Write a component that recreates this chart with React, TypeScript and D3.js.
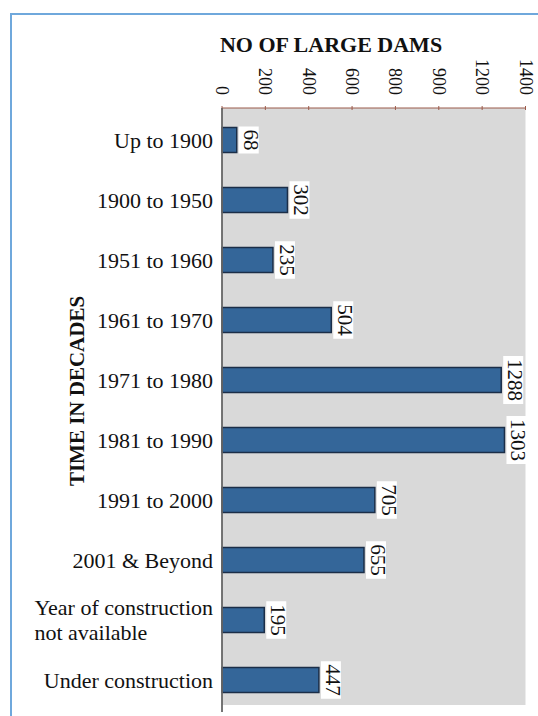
import React, { useEffect, useRef } from "react";
import * as d3 from "d3";

const categories = [
  "Up to 1900",
  "1900 to 1950",
  "1951 to 1960",
  "1961 to 1970",
  "1971 to 1980",
  "1981 to 1990",
  "1991 to 2000",
  "2001 & Beyond",
  "Year of construction\nnot available",
  "Under construction",
];
const values = [68, 302, 235, 504, 1288, 1303, 705, 655, 195, 447];
const tickValues = [0, 200, 400, 600, 800, 1000, 1200, 1400];
const tickLabels = ["0", "200", "400", "600", "800", "900", "1200", "1400"];
const xTitle = "NO OF LARGE DAMS";
const yTitle = "TIME IN DECADES";

const W = 538;
const H = 716;
const FONT = "'Liberation Serif', 'Times New Roman', serif";

export default function App() {
  const ref = useRef<SVGSVGElement | null>(null);

  useEffect(() => {
    const svg = d3.select(ref.current);
    svg.selectAll("*").remove();

    const x = d3.scaleLinear().domain([0, 1400]).range([222, 525.5]);
    const y = d3
      .scaleBand<string>()
      .domain(categories)
      .range([110, 710])
      .paddingInner(35 / 60)
      .paddingOuter(35 / 120);

    // frame
    svg
      .append("rect")
      .attr("x", 11)
      .attr("y", 14)
      .attr("width", W)
      .attr("height", H)
      .attr("fill", "white")
      .attr("stroke", "#6fa8dc")
      .attr("stroke-width", 2);

    // plot background
    svg
      .append("rect")
      .attr("x", x(0))
      .attr("y", 108)
      .attr("width", x(1400) - x(0))
      .attr("height", 705 - 108)
      .attr("fill", "#d9d9d9");

    // top axis line
    svg
      .append("line")
      .attr("x1", x(0))
      .attr("x2", x(1400))
      .attr("y1", 108)
      .attr("y2", 108)
      .attr("stroke", "#9a5a4a")
      .attr("stroke-width", 1);
    svg
      .selectAll("line.tick")
      .data(tickValues)
      .enter()
      .append("line")
      .attr("class", "tick")
      .attr("x1", (d) => x(d))
      .attr("x2", (d) => x(d))
      .attr("y1", 106)
      .attr("y2", 110)
      .attr("stroke", "#9a5a4a")
      .attr("stroke-width", 1);

    // tick labels rotated
    svg
      .selectAll("text.tl")
      .data(tickValues)
      .enter()
      .append("text")
      .attr("class", "tl")
      .attr("transform", (d) => `translate(${x(d) - 6},95) rotate(90)`)
      .attr("text-anchor", "end")
      .attr("font-family", FONT)
      .attr("font-size", 18)
      .attr("fill", "#111")
      .text((d, i) => tickLabels[i]);

    // bars
    svg
      .selectAll("rect.bar")
      .data(values)
      .enter()
      .append("rect")
      .attr("class", "bar")
      .attr("x", x(0))
      .attr("y", (d, i) => y(categories[i])!)
      .attr("width", (d) => x(d) - x(0))
      .attr("height", y.bandwidth())
      .attr("fill", "#346699")
      .attr("stroke", "#1b2e48")
      .attr("stroke-width", 1.5);

    // left axis line
    svg
      .append("line")
      .attr("x1", x(0))
      .attr("x2", x(0))
      .attr("y1", 108)
      .attr("y2", 712)
      .attr("stroke", "#666")
      .attr("stroke-width", 1.8);

    // value labels
    values.forEach((v, i) => {
      const cy = y(categories[i])! + y.bandwidth() / 2;
      const bx = x(v) + 2;
      const g = svg.append("g");
      const t = g
        .append("text")
        .attr("transform", `translate(${bx + 5},${cy}) rotate(90)`)
        .attr("text-anchor", "middle")
        .attr("font-family", FONT)
        .attr("font-size", 21)
        .attr("fill", "#111")
        .text(String(v));
      const len = (t.node() as SVGTextElement).getComputedTextLength();
      g.insert("rect", "text")
        .attr("x", bx)
        .attr("y", cy - len / 2 - 3)
        .attr("width", 20)
        .attr("height", len + 6)
        .attr("fill", "white");
    });

    // category labels
    const labelRight = 213;
    categories.forEach((c, i) => {
      const cy = y(c)! + y.bandwidth() / 2;
      const lines = c.split("\n");
      if (lines.length === 1) {
        svg
          .append("text")
          .attr("x", labelRight)
          .attr("y", cy)
          .attr("dy", "0.35em")
          .attr("text-anchor", "end")
          .attr("font-family", FONT)
          .attr("font-size", 22)
          .attr("fill", "#111")
          .text(c);
      } else {
        const t = svg
          .append("text")
          .attr("font-family", FONT)
          .attr("font-size", 22)
          .attr("fill", "#111");
        const first = t
          .append("tspan")
          .attr("y", cy - 12.5)
          .attr("dy", "0.35em")
          .text(lines[0]);
        const w = (first.node() as SVGTextContentElement).getComputedTextLength();
        const sx = labelRight - w;
        first.attr("x", sx);
        lines.slice(1).forEach((l, k) => {
          t.append("tspan")
            .attr("x", sx)
            .attr("y", cy + 12.5 + k * 25)
            .attr("dy", "0.35em")
            .text(l);
        });
      }
    });

    // titles
    svg
      .append("text")
      .attr("x", 331)
      .attr("y", 52)
      .attr("text-anchor", "middle")
      .attr("font-family", FONT)
      .attr("font-weight", "bold")
      .attr("font-size", 22)
      .attr("fill", "#111")
      .text(xTitle);

    svg
      .append("text")
      .attr("transform", `translate(84,391) rotate(-90)`)
      .attr("text-anchor", "middle")
      .attr("font-family", FONT)
      .attr("font-weight", "bold")
      .attr("font-size", 21)
      .attr("fill", "#111")
      .text(yTitle);
  }, []);

  return (
    <svg
      ref={ref}
      width={W}
      height={H}
      style={{ position: "absolute", left: 0, top: 0, background: "white" }}
    />
  );
}
